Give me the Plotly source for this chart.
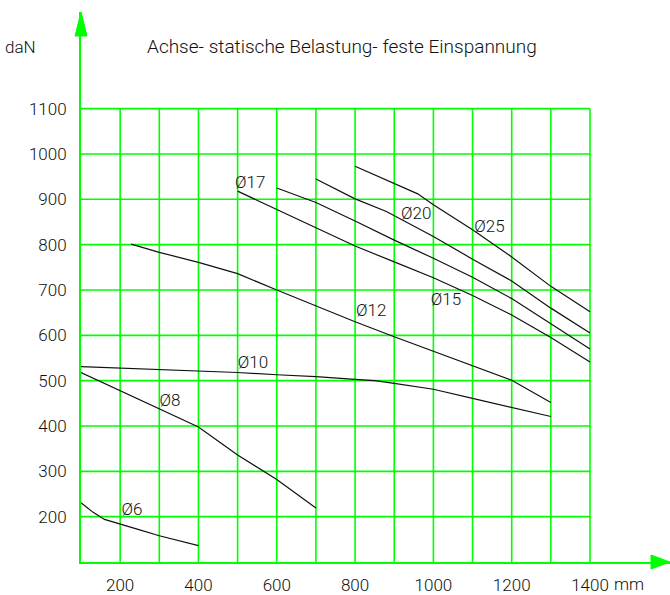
import plotly.graph_objects as go

# Load (daN) over span length (mm) for each axle diameter
span_d6 = [100, 130, 160, 200, 250, 300, 400]
load_d6 = [231, 210, 194, 183, 171, 158, 136]
span_d8 = [100, 200, 300, 400, 500, 600, 700]
load_d8 = [518, 478, 438, 398, 336, 282, 219]
span_d10 = [100, 300, 500, 600, 700, 800, 850, 900, 1000, 1100, 1200, 1300]
load_d10 = [531, 525, 518, 513, 509, 503, 500, 494, 481, 461, 441, 421]
span_d12 = [228, 300, 400, 500, 600, 700, 800, 900, 1000, 1100, 1200, 1300]
load_d12 = [801, 783, 761, 736, 700, 665, 630, 597, 565, 533, 501, 452]
span_d15 = [500, 600, 700, 800, 900, 1000, 1100, 1200, 1300, 1400]
load_d15 = [918, 878, 838, 797, 762, 727, 688, 645, 595, 541]
span_d17 = [600, 700, 800, 900, 1000, 1100, 1200, 1300, 1400]
load_d17 = [925, 893, 852, 810, 770, 728, 681, 626, 570]
span_d20 = [700, 800, 880, 1000, 1100, 1200, 1300, 1400]
load_d20 = [945, 901, 873, 818, 768, 720, 660, 605]
span_d25 = [800, 900, 960, 1000, 1100, 1200, 1300, 1400]
load_d25 = [973, 935, 912, 888, 833, 773, 708, 652]

# Curve labels: text and anchor point (span, load)
label_text = ["\u00d86", "\u00d88", "\u00d810", "\u00d812", "\u00d815", "\u00d817", "\u00d820", "\u00d825"]
label_span = [230, 327, 539, 841, 1032, 532, 956, 1143]
label_load = [212, 454, 537, 651, 676, 934, 866, 838]

# Axis ticks and grid
x_ticks = [200, 400, 600, 800, 1000, 1200, 1400]
x_ticktext = ["200", "400", "600", "800", "1000", "1200", "1400"]
y_ticks = [200, 300, 400, 500, 600, 700, 800, 900, 1000, 1100]
y_ticktext = ["200", "300", "400", "500", "600", "700", "800", "900", "1000", "1100"]
grid_x = [200, 300, 400, 500, 600, 700, 800, 900, 1000, 1100, 1200, 1300, 1400]
grid_y = [200, 300, 400, 500, 600, 700, 800, 900, 1000, 1100]
x_min, x_max = 100, 1400
y_min, y_max = 100, 1100

GREEN = "#00ff00"
INK = "#111111"
FONT = "Roboto, sans-serif"

fig = go.Figure()

curves = [
    (span_d6, load_d6), (span_d8, load_d8), (span_d10, load_d10),
    (span_d12, load_d12), (span_d15, load_d15), (span_d17, load_d17),
    (span_d20, load_d20), (span_d25, load_d25),
]
for xs, ys in curves:
    fig.add_trace(go.Scatter(x=xs, y=ys, mode="lines",
                             line=dict(color=INK, width=1.2),
                             hoverinfo="skip", showlegend=False))

fig.add_trace(go.Scatter(x=label_span, y=label_load, mode="text",
                         text=label_text,
                         textfont=dict(family=FONT, size=17, color=INK, weight=300),
                         hoverinfo="skip", showlegend=False))

shapes = []
for gx in grid_x:
    shapes.append(dict(type="line", x0=gx, x1=gx, y0=y_min, y1=y_max,
                       line=dict(color=GREEN, width=1.6), layer="below"))
for gy in grid_y:
    shapes.append(dict(type="line", x0=x_min, x1=x_max, y0=gy, y1=gy,
                       line=dict(color=GREEN, width=1.6), layer="below"))

# Arrow heads on the two axes
shapes.append(dict(type="path", xref="paper", yref="paper",
                   xsizemode="pixel", ysizemode="pixel",
                   xanchor=0, yanchor=1,
                   path="M 0 0 L -6 -24 L 6 -24 Z",
                   fillcolor=GREEN, line=dict(color=GREEN, width=1)))
shapes.append(dict(type="path", xref="paper", yref="paper",
                   xsizemode="pixel", ysizemode="pixel",
                   xanchor=1, yanchor=0,
                   path="M 0 0 L -19 7 L -19 -7 Z",
                   fillcolor=GREEN, line=dict(color=GREEN, width=1)))

annotations = [
    dict(text="Achse- statische Belastung- feste Einspannung",
         xref="paper", yref="paper", x=0.443, y=0.9366,
         showarrow=False, xanchor="center", yanchor="middle",
         font=dict(family=FONT, size=19, color=INK, weight=300)),
    dict(text="daN", xref="paper", yref="paper", x=-0.1035, y=0.9366,
         showarrow=False, xanchor="center", yanchor="middle",
         font=dict(family=FONT, size=17, color=INK, weight=300)),
    dict(text="mm", x=1500, y=y_min, yshift=-22, xanchor="center", yanchor="middle",
         showarrow=False, font=dict(family=FONT, size=17, color=INK, weight=300)),
]

fig.update_layout(
    width=670, height=595,
    margin=dict(l=81, r=0, t=12, b=31),
    paper_bgcolor="white", plot_bgcolor="white",
    shapes=shapes, annotations=annotations,
    xaxis=dict(range=[100, 1604.3], tickvals=x_ticks, ticktext=x_ticktext,
               showgrid=False, zeroline=False, showline=True,
               linecolor=GREEN, linewidth=2, ticks="",
               ticklabelstandoff=7,
               tickfont=dict(family=FONT, size=17, color=INK, weight=300)),
    yaxis=dict(range=[100, 1313.2], tickvals=y_ticks, ticktext=y_ticktext,
               showgrid=False, zeroline=False, showline=True,
               linecolor=GREEN, linewidth=2, ticks="",
               ticklabelstandoff=9,
               tickfont=dict(family=FONT, size=17, color=INK, weight=300)),
)

fig.write_html("out.html")
